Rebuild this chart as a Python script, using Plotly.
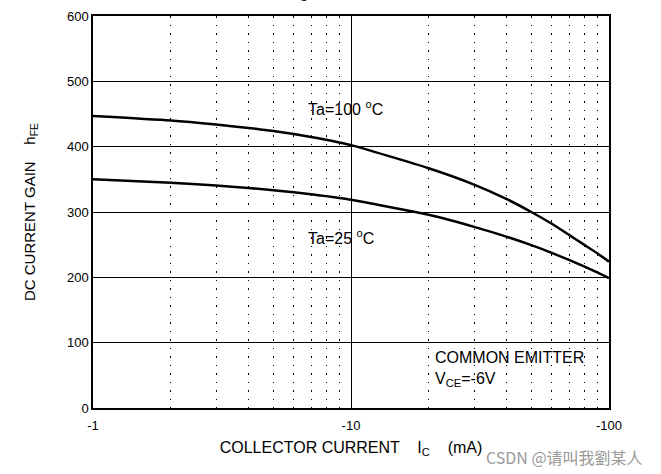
import plotly.graph_objects as go

ic = [1, 2, 3, 4, 5, 6, 7, 8, 9, 10, 20, 30, 40, 50, 60, 70, 80, 90, 100]
hfe_100 = [447, 440.1, 433.9, 428.7, 423.9, 419.3, 414.9, 410.6, 406.4, 402.3, 367, 342, 320, 300, 282, 265, 250, 237, 224]
hfe_25 = [350, 344.9, 340.5, 336.8, 333.4, 330.2, 327.2, 324.3, 321.5, 318.7, 295.8, 277.3, 262.3, 249.2, 237.3, 226.6, 216.7, 207.5, 198.8]

x_ticks = [1, 10, 100]
x_ticktext = ["-1", "-10", "-100"]
x_minor = [2, 3, 4, 5, 6, 7, 8, 9, 20, 30, 40, 50, 60, 70, 80, 90]
y_ticks = [0, 100, 200, 300, 400, 500, 600]

FONT = "Liberation Sans, Arial, sans-serif"

fig = go.Figure()
for ys in (hfe_100, hfe_25):
    fig.add_trace(go.Scatter(x=ic, y=ys, mode="lines",
                             line=dict(color="black", width=2.5, shape="spline", smoothing=0.6),
                             showlegend=False, hoverinfo="skip"))

fig.update_layout(
    width=661, height=474,
    margin=dict(l=93, r=52, t=16, b=66, autoexpand=False),
    paper_bgcolor="white", plot_bgcolor="white",
    font=dict(family=FONT, size=13, color="black"),
    xaxis=dict(type="log", range=[0, 2], tickvals=x_ticks, ticktext=x_ticktext,
               showgrid=True, gridcolor="black", gridwidth=1,
               minor=dict(tickvals=x_minor, showgrid=True, gridcolor="black",
                          griddash="1.5px,7px", gridwidth=1.4, ticks=""),
               showline=True, linecolor="black", linewidth=1.5, mirror=True,
               ticks="", ticklabelstandoff=5, zeroline=False,
               title=dict(text="COLLECTOR CURRENT    I<sub>C</sub>    (mA)",
                          font=dict(size=16), standoff=9)),
    yaxis=dict(range=[0, 600], tickvals=y_ticks,
               showgrid=True, gridcolor="black", gridwidth=1,
               showline=True, linecolor="black", linewidth=1.5, mirror=True,
               ticks="", zeroline=False,
               title=dict(text="DC CURRENT GAIN    h<sub>FE</sub>",
                          font=dict(size=15), standoff=28)),
)

ann = dict(showarrow=False, font=dict(family=FONT, size=16, color="black"))
fig.add_annotation(x=0.977, y=459, xref="x", yref="y", text="Ta=100 <sup>o</sup>C", **ann)
fig.add_annotation(x=0.962, y=262, xref="x", yref="y", text="Ta=25 <sup>o</sup>C", **ann)
fig.add_annotation(x=1.316, y=78, xref="x", yref="y", xanchor="left", text="COMMON EMITTER", **ann)
fig.add_annotation(x=1.316, y=44, xref="x", yref="y", xanchor="left", text="V<sub>CE</sub>=-6V", **ann)
fig.add_annotation(x=0.405, y=1, xref="paper", yref="paper", yanchor="bottom", yshift=11,
                   text="I<sub>C</sub>", **ann)
fig.add_annotation(x=0.913, y=-0.125, xref="paper", yref="paper", xanchor="center", yanchor="middle",
                   showarrow=False, text="CSDN @请叫我劉某人",
                   font=dict(family="Noto Sans CJK SC, sans-serif", size=16, color="#9a9a9a"))

fig.write_html("out.html", config={"displayModeBar": False},
               post_script="document.body.style.margin='0';document.body.style.overflow='hidden';")
